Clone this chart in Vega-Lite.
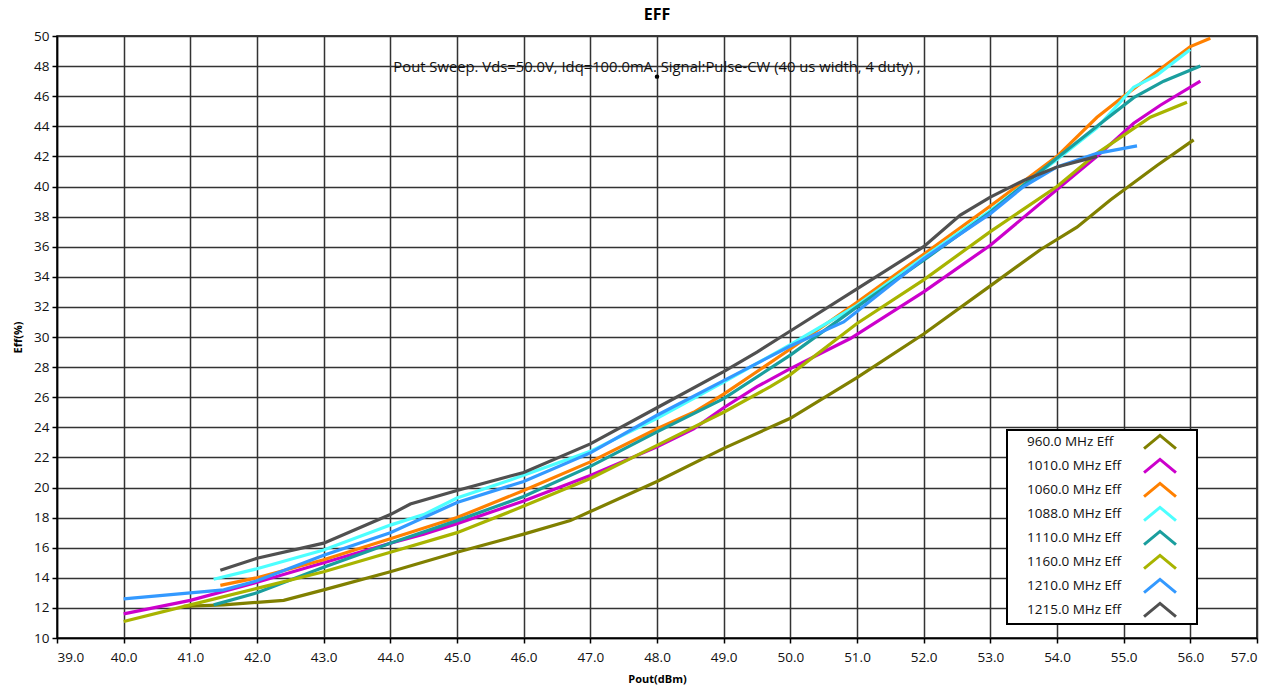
{
  "$schema": "https://vega.github.io/schema/vega-lite/v6.json",
  "autosize": "none",
  "width": 1200,
  "height": 602,
  "padding": {"left": 57, "top": 36, "right": 26, "bottom": 51},
  "background": "white",
  "title": {"text": "EFF", "fontSize": 16, "fontWeight": "bold", "font": "Open Sans", "color": "black", "offset": 6, "anchor": "middle"},
  "config": {
    "font": "Open Sans",
    "view": {"stroke": "black", "strokeWidth": 1.5},
    "axis": {
      "grid": true, "gridColor": "#333333", "gridWidth": 1.5, "gridOpacity": 1,
      "domainColor": "black", "domainWidth": 1.5,
      "tickColor": "black", "tickSize": 5, "tickWidth": 1.5,
      "labelFont": "Open Sans", "labelFontSize": 13.5, "labelColor": "#111111", "labelOverlap": false,
      "titleFont": "Open Sans", "titleFontSize": 11, "titleFontWeight": "bold", "titleColor": "black"
    }
  },
  "datasets": {
    "curves": [
      {"s": "960.0 MHz Eff", "x": 40.9, "y": 12.1},
      {"s": "960.0 MHz Eff", "x": 41.5, "y": 12.2},
      {"s": "960.0 MHz Eff", "x": 42.4, "y": 12.5},
      {"s": "960.0 MHz Eff", "x": 43.0, "y": 13.2},
      {"s": "960.0 MHz Eff", "x": 44.0, "y": 14.4},
      {"s": "960.0 MHz Eff", "x": 45.0, "y": 15.7},
      {"s": "960.0 MHz Eff", "x": 46.0, "y": 16.9},
      {"s": "960.0 MHz Eff", "x": 46.7, "y": 17.8},
      {"s": "960.0 MHz Eff", "x": 47.0, "y": 18.4},
      {"s": "960.0 MHz Eff", "x": 48.0, "y": 20.4},
      {"s": "960.0 MHz Eff", "x": 49.0, "y": 22.6},
      {"s": "960.0 MHz Eff", "x": 50.0, "y": 24.6},
      {"s": "960.0 MHz Eff", "x": 50.3, "y": 25.4},
      {"s": "960.0 MHz Eff", "x": 51.0, "y": 27.3},
      {"s": "960.0 MHz Eff", "x": 52.0, "y": 30.2},
      {"s": "960.0 MHz Eff", "x": 53.0, "y": 33.4},
      {"s": "960.0 MHz Eff", "x": 53.75, "y": 35.8},
      {"s": "960.0 MHz Eff", "x": 54.3, "y": 37.3},
      {"s": "960.0 MHz Eff", "x": 54.8, "y": 39.1},
      {"s": "960.0 MHz Eff", "x": 55.5, "y": 41.4},
      {"s": "960.0 MHz Eff", "x": 56.05, "y": 43.1},

      {"s": "1010.0 MHz Eff", "x": 40.0, "y": 11.6},
      {"s": "1010.0 MHz Eff", "x": 41.0, "y": 12.5},
      {"s": "1010.0 MHz Eff", "x": 42.0, "y": 13.7},
      {"s": "1010.0 MHz Eff", "x": 43.0, "y": 15.0},
      {"s": "1010.0 MHz Eff", "x": 44.0, "y": 16.3},
      {"s": "1010.0 MHz Eff", "x": 44.5, "y": 16.9},
      {"s": "1010.0 MHz Eff", "x": 45.0, "y": 17.6},
      {"s": "1010.0 MHz Eff", "x": 46.0, "y": 19.1},
      {"s": "1010.0 MHz Eff", "x": 47.0, "y": 20.8},
      {"s": "1010.0 MHz Eff", "x": 48.0, "y": 22.7},
      {"s": "1010.0 MHz Eff", "x": 48.55, "y": 23.9},
      {"s": "1010.0 MHz Eff", "x": 49.0, "y": 25.3},
      {"s": "1010.0 MHz Eff", "x": 49.5, "y": 26.7},
      {"s": "1010.0 MHz Eff", "x": 50.0, "y": 27.9},
      {"s": "1010.0 MHz Eff", "x": 50.9, "y": 29.9},
      {"s": "1010.0 MHz Eff", "x": 52.0, "y": 33.0},
      {"s": "1010.0 MHz Eff", "x": 53.0, "y": 36.1},
      {"s": "1010.0 MHz Eff", "x": 54.0, "y": 39.8},
      {"s": "1010.0 MHz Eff", "x": 54.6, "y": 42.0},
      {"s": "1010.0 MHz Eff", "x": 55.15, "y": 44.2},
      {"s": "1010.0 MHz Eff", "x": 55.55, "y": 45.4},
      {"s": "1010.0 MHz Eff", "x": 56.15, "y": 47.0},

      {"s": "1060.0 MHz Eff", "x": 41.45, "y": 13.5},
      {"s": "1060.0 MHz Eff", "x": 42.0, "y": 14.0},
      {"s": "1060.0 MHz Eff", "x": 43.0, "y": 15.2},
      {"s": "1060.0 MHz Eff", "x": 44.0, "y": 16.6},
      {"s": "1060.0 MHz Eff", "x": 45.0, "y": 18.0},
      {"s": "1060.0 MHz Eff", "x": 46.0, "y": 19.8},
      {"s": "1060.0 MHz Eff", "x": 47.0, "y": 21.7},
      {"s": "1060.0 MHz Eff", "x": 48.0, "y": 23.9},
      {"s": "1060.0 MHz Eff", "x": 48.55, "y": 25.0},
      {"s": "1060.0 MHz Eff", "x": 49.0, "y": 26.2},
      {"s": "1060.0 MHz Eff", "x": 50.0, "y": 29.2},
      {"s": "1060.0 MHz Eff", "x": 51.0, "y": 32.3},
      {"s": "1060.0 MHz Eff", "x": 52.0, "y": 35.5},
      {"s": "1060.0 MHz Eff", "x": 53.0, "y": 38.7},
      {"s": "1060.0 MHz Eff", "x": 54.0, "y": 42.0},
      {"s": "1060.0 MHz Eff", "x": 54.6, "y": 44.6},
      {"s": "1060.0 MHz Eff", "x": 55.0, "y": 46.0},
      {"s": "1060.0 MHz Eff", "x": 56.0, "y": 49.3},
      {"s": "1060.0 MHz Eff", "x": 56.3, "y": 49.85},

      {"s": "1088.0 MHz Eff", "x": 41.35, "y": 13.9},
      {"s": "1088.0 MHz Eff", "x": 42.0, "y": 14.6},
      {"s": "1088.0 MHz Eff", "x": 43.0, "y": 15.85},
      {"s": "1088.0 MHz Eff", "x": 44.0, "y": 17.5},
      {"s": "1088.0 MHz Eff", "x": 44.5, "y": 18.2},
      {"s": "1088.0 MHz Eff", "x": 45.0, "y": 19.3},
      {"s": "1088.0 MHz Eff", "x": 45.8, "y": 20.5},
      {"s": "1088.0 MHz Eff", "x": 47.0, "y": 22.4},
      {"s": "1088.0 MHz Eff", "x": 48.0, "y": 24.6},
      {"s": "1088.0 MHz Eff", "x": 49.0, "y": 27.0},
      {"s": "1088.0 MHz Eff", "x": 50.0, "y": 29.5},
      {"s": "1088.0 MHz Eff", "x": 51.0, "y": 32.1},
      {"s": "1088.0 MHz Eff", "x": 52.0, "y": 35.3},
      {"s": "1088.0 MHz Eff", "x": 53.0, "y": 38.4},
      {"s": "1088.0 MHz Eff", "x": 54.0, "y": 41.8},
      {"s": "1088.0 MHz Eff", "x": 54.6, "y": 43.9},
      {"s": "1088.0 MHz Eff", "x": 55.15, "y": 46.6},
      {"s": "1088.0 MHz Eff", "x": 55.5, "y": 47.4},
      {"s": "1088.0 MHz Eff", "x": 56.0, "y": 49.1},

      {"s": "1110.0 MHz Eff", "x": 41.35, "y": 12.2},
      {"s": "1110.0 MHz Eff", "x": 42.0, "y": 13.0},
      {"s": "1110.0 MHz Eff", "x": 43.0, "y": 14.7},
      {"s": "1110.0 MHz Eff", "x": 44.0, "y": 16.3},
      {"s": "1110.0 MHz Eff", "x": 45.0, "y": 17.8},
      {"s": "1110.0 MHz Eff", "x": 46.0, "y": 19.4},
      {"s": "1110.0 MHz Eff", "x": 47.0, "y": 21.4},
      {"s": "1110.0 MHz Eff", "x": 48.0, "y": 23.7},
      {"s": "1110.0 MHz Eff", "x": 49.0, "y": 25.9},
      {"s": "1110.0 MHz Eff", "x": 50.0, "y": 28.8},
      {"s": "1110.0 MHz Eff", "x": 51.0, "y": 32.0},
      {"s": "1110.0 MHz Eff", "x": 52.0, "y": 35.1},
      {"s": "1110.0 MHz Eff", "x": 53.0, "y": 38.3},
      {"s": "1110.0 MHz Eff", "x": 54.0, "y": 41.9},
      {"s": "1110.0 MHz Eff", "x": 54.6, "y": 44.0},
      {"s": "1110.0 MHz Eff", "x": 55.15, "y": 45.9},
      {"s": "1110.0 MHz Eff", "x": 55.6, "y": 47.0},
      {"s": "1110.0 MHz Eff", "x": 56.15, "y": 48.0},

      {"s": "1160.0 MHz Eff", "x": 40.0, "y": 11.1},
      {"s": "1160.0 MHz Eff", "x": 41.0, "y": 12.2},
      {"s": "1160.0 MHz Eff", "x": 42.0, "y": 13.3},
      {"s": "1160.0 MHz Eff", "x": 43.0, "y": 14.4},
      {"s": "1160.0 MHz Eff", "x": 44.0, "y": 15.7},
      {"s": "1160.0 MHz Eff", "x": 45.0, "y": 17.0},
      {"s": "1160.0 MHz Eff", "x": 45.8, "y": 18.4},
      {"s": "1160.0 MHz Eff", "x": 47.0, "y": 20.6},
      {"s": "1160.0 MHz Eff", "x": 48.0, "y": 22.8},
      {"s": "1160.0 MHz Eff", "x": 49.0, "y": 25.0},
      {"s": "1160.0 MHz Eff", "x": 49.7, "y": 26.7},
      {"s": "1160.0 MHz Eff", "x": 50.0, "y": 27.5},
      {"s": "1160.0 MHz Eff", "x": 51.0, "y": 30.9},
      {"s": "1160.0 MHz Eff", "x": 52.0, "y": 33.8},
      {"s": "1160.0 MHz Eff", "x": 53.0, "y": 37.0},
      {"s": "1160.0 MHz Eff", "x": 54.0, "y": 40.0},
      {"s": "1160.0 MHz Eff", "x": 54.6, "y": 42.2},
      {"s": "1160.0 MHz Eff", "x": 55.4, "y": 44.6},
      {"s": "1160.0 MHz Eff", "x": 55.95, "y": 45.6},

      {"s": "1210.0 MHz Eff", "x": 40.0, "y": 12.6},
      {"s": "1210.0 MHz Eff", "x": 41.0, "y": 13.0},
      {"s": "1210.0 MHz Eff", "x": 41.5, "y": 13.2},
      {"s": "1210.0 MHz Eff", "x": 42.0, "y": 13.8},
      {"s": "1210.0 MHz Eff", "x": 43.0, "y": 15.5},
      {"s": "1210.0 MHz Eff", "x": 44.0, "y": 17.0},
      {"s": "1210.0 MHz Eff", "x": 45.0, "y": 19.0},
      {"s": "1210.0 MHz Eff", "x": 46.0, "y": 20.4},
      {"s": "1210.0 MHz Eff", "x": 47.0, "y": 22.3},
      {"s": "1210.0 MHz Eff", "x": 48.0, "y": 24.8},
      {"s": "1210.0 MHz Eff", "x": 49.0, "y": 27.1},
      {"s": "1210.0 MHz Eff", "x": 50.0, "y": 29.4},
      {"s": "1210.0 MHz Eff", "x": 50.8, "y": 31.0},
      {"s": "1210.0 MHz Eff", "x": 51.0, "y": 31.7},
      {"s": "1210.0 MHz Eff", "x": 52.0, "y": 35.2},
      {"s": "1210.0 MHz Eff", "x": 53.0, "y": 38.2},
      {"s": "1210.0 MHz Eff", "x": 53.5, "y": 40.0},
      {"s": "1210.0 MHz Eff", "x": 54.0, "y": 41.3},
      {"s": "1210.0 MHz Eff", "x": 54.6, "y": 42.2},
      {"s": "1210.0 MHz Eff", "x": 55.2, "y": 42.7},

      {"s": "1215.0 MHz Eff", "x": 41.45, "y": 14.5},
      {"s": "1215.0 MHz Eff", "x": 42.0, "y": 15.3},
      {"s": "1215.0 MHz Eff", "x": 43.0, "y": 16.3},
      {"s": "1215.0 MHz Eff", "x": 44.0, "y": 18.2},
      {"s": "1215.0 MHz Eff", "x": 44.3, "y": 18.9},
      {"s": "1215.0 MHz Eff", "x": 45.0, "y": 19.8},
      {"s": "1215.0 MHz Eff", "x": 46.0, "y": 21.0},
      {"s": "1215.0 MHz Eff", "x": 47.0, "y": 22.9},
      {"s": "1215.0 MHz Eff", "x": 48.0, "y": 25.3},
      {"s": "1215.0 MHz Eff", "x": 49.0, "y": 27.7},
      {"s": "1215.0 MHz Eff", "x": 49.5, "y": 29.0},
      {"s": "1215.0 MHz Eff", "x": 50.0, "y": 30.4},
      {"s": "1215.0 MHz Eff", "x": 51.0, "y": 33.2},
      {"s": "1215.0 MHz Eff", "x": 52.0, "y": 36.0},
      {"s": "1215.0 MHz Eff", "x": 52.55, "y": 38.1},
      {"s": "1215.0 MHz Eff", "x": 53.0, "y": 39.3},
      {"s": "1215.0 MHz Eff", "x": 53.5, "y": 40.4},
      {"s": "1215.0 MHz Eff", "x": 54.0, "y": 41.3},
      {"s": "1215.0 MHz Eff", "x": 54.6, "y": 42.0}
    ],
    "note": [
      {"x": 48.0, "y": 47.3, "label": "Pout Sweep. Vds=50.0V, Idq=100.0mA. Signal:Pulse-CW (40 us width, 4  duty) ,"}
    ]
  },
  "layer": [
    {
      "data": {"name": "curves"},
      "mark": {"type": "line", "strokeWidth": 3.2, "clip": true},
      "encoding": {
        "x": {
          "field": "x", "type": "quantitative",
          "scale": {"domain": [39, 57], "nice": false, "zero": false},
          "axis": {"title": "Pout(dBm)", "values": [39,40,41,42,43,44,45,46,47,48,49,50,51,52,53,54,55,56,57], "tickCount": 40, "format": ".1f", "labelPadding": 7, "titlePadding": 10}
        },
        "y": {
          "field": "y", "type": "quantitative",
          "scale": {"domain": [10, 50], "nice": false, "zero": false},
          "axis": {"title": "Eff(%)", "values": [10,12,14,16,18,20,22,24,26,28,30,32,34,36,38,40,42,44,46,48,50], "tickCount": 40, "format": "d", "labelPadding": 3, "titlePadding": 10}
        },
        "color": {
          "field": "s", "type": "nominal",
          "scale": {
            "domain": ["960.0 MHz Eff", "1010.0 MHz Eff", "1060.0 MHz Eff", "1088.0 MHz Eff", "1110.0 MHz Eff", "1160.0 MHz Eff", "1210.0 MHz Eff", "1215.0 MHz Eff"],
            "range": ["#808000", "#cc00cc", "#ff8000", "#4dffff", "#1a9e9e", "#a8b400", "#3399ff", "#505050"]
          },
          "legend": {
            "title": null,
            "orient": "none",
            "legendX": 950,
            "legendY": 394,
            "direction": "vertical",
            "fillColor": "white",
            "strokeColor": "black",
            "padding": 1,
            "rowPadding": -2,
            "labelFont": "Open Sans",
            "labelFontSize": 13.5,
            "labelColor": "#111111",
            "labelLimit": 200,
            "symbolType": "M-1.68,0.7L0,-0.7L1.68,0.7M3.15,0",
            "symbolSize": 361,
            "symbolStrokeWidth": 3,
            "symbolFillColor": "transparent",
            "encode": {
              "symbols": {"update": {"x": {"value": 152}}},
              "labels": {"update": {"x": {"value": 19}}},
              "legend": {"update": {"strokeWidth": {"value": 2}}}
            }
          }
        }
      }
    },
    {
      "data": {"name": "note"},
      "mark": {"type": "point", "filled": true, "color": "black", "size": 20, "opacity": 1},
      "encoding": {
        "x": {"field": "x", "type": "quantitative"},
        "y": {"field": "y", "type": "quantitative"}
      }
    },
    {
      "data": {"name": "note"},
      "mark": {"type": "text", "font": "Open Sans", "fontSize": 14.8, "color": "#111111", "align": "center", "baseline": "bottom", "dy": -2},
      "encoding": {
        "x": {"field": "x", "type": "quantitative"},
        "y": {"field": "y", "type": "quantitative"},
        "text": {"field": "label"}
      }
    }
  ]
}
